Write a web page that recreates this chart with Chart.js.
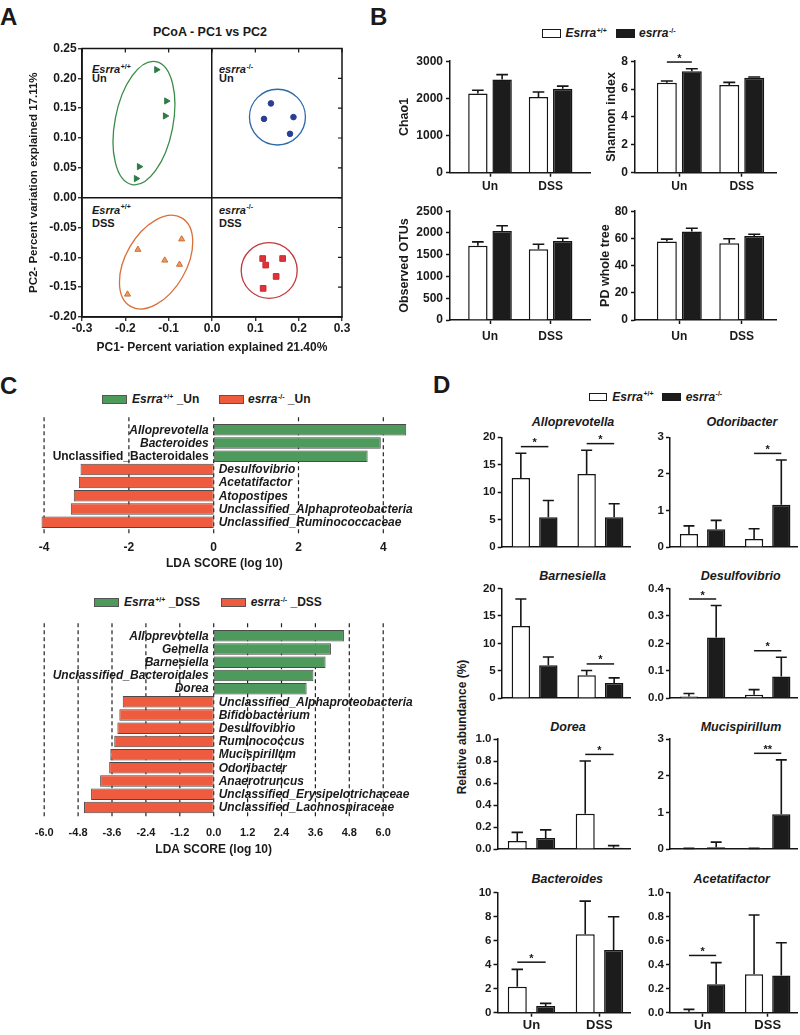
<!DOCTYPE html>
<html>
<head>
<meta charset="utf-8">
<script src="https://cdn.jsdelivr.net/npm/chart.js@4.4.1/dist/chart.umd.min.js"></script>
<style>
  body { margin: 0; background: #fff; }
  #fig { position: relative; width: 800px; height: 1035px; overflow: hidden;
         font-family: 'Liberation Sans', Arial, sans-serif; font-weight: bold; color: #1a1a1a; }
  #fig canvas { position: absolute; }
  .t { position: absolute; white-space: nowrap; line-height: 1; }
  .letter { font-size: 24px; }
  .q { font-size: 11px; }
  .lg { font-size: 12px; }
  .sub { font-size: 12.5px; font-style: italic; width: 160px; text-align: center; }
  .sup { font-size: 7px; position: relative; top: -4.5px; margin-left: 0.5px; font-style: normal; }
  .box { position: absolute; box-sizing: border-box; border: 1.3px solid #1a1a1a; }
</style>
</head>
<body>
<div id="fig">
  <div class="t letter" style="left:0;top:4.5px">A</div>
  <div class="t letter" style="left:370px;top:4.5px">B</div>
  <div class="t letter" style="left:0;top:373.5px">C</div>
  <div class="t letter" style="left:433px;top:373px">D</div>

  <div class="t" style="left:110px;top:25.7px;width:200px;text-align:center;font-size:12.5px">PCoA - PC1 vs PC2</div>
  <div class="t q" style="left:92px;top:64.2px"><i>Esrra</i><span class="sup">+/+</span></div>
  <div class="t q" style="left:92px;top:72.7px">Un</div>
  <div class="t q" style="left:219px;top:64.2px"><i>esrra</i><span class="sup">-/-</span></div>
  <div class="t q" style="left:219px;top:72.7px">Un</div>
  <div class="t q" style="left:92px;top:204.7px"><i>Esrra</i><span class="sup">+/+</span></div>
  <div class="t q" style="left:92px;top:218px">DSS</div>
  <div class="t q" style="left:219px;top:204.7px"><i>esrra</i><span class="sup">-/-</span></div>
  <div class="t q" style="left:219px;top:218px">DSS</div>

  <div class="box" style="left:541.5px;top:28.5px;width:19.5px;height:9px;background:#fff"></div>
  <div class="t lg" style="left:565.5px;top:27.2px"><i>Esrra</i><span class="sup">+/+</span></div>
  <div class="box" style="left:616px;top:28.5px;width:18.5px;height:9px;background:#1c1c1c"></div>
  <div class="t lg" style="left:639px;top:27.2px"><i>esrra</i><span class="sup">-/-</span></div>

  <div class="box" style="left:102px;top:395px;width:25px;height:8.5px;background:#4e9a5c;border-color:#555"></div>
  <div class="t lg" style="left:132px;top:393.4px"><i>Esrra</i><span class="sup">+/+</span> _Un</div>
  <div class="box" style="left:219px;top:395px;width:24.5px;height:8.5px;background:#ef5b3f;border-color:#555"></div>
  <div class="t lg" style="left:248px;top:393.4px"><i>esrra</i><span class="sup">-/-</span> _Un</div>

  <div class="box" style="left:94.3px;top:597.5px;width:24.7px;height:9px;background:#4e9a5c;border-color:#555"></div>
  <div class="t lg" style="left:124px;top:596.1px"><i>Esrra</i><span class="sup">+/+</span> _DSS</div>
  <div class="box" style="left:221px;top:597.5px;width:24.7px;height:9px;background:#ef5b3f;border-color:#555"></div>
  <div class="t lg" style="left:250.7px;top:596.1px"><i>esrra</i><span class="sup">-/-</span> _DSS</div>

  <div class="box" style="left:589px;top:392.5px;width:18px;height:8.5px;background:#fff"></div>
  <div class="t lg" style="left:612.3px;top:390.8px"><i>Esrra</i><span class="sup">+/+</span></div>
  <div class="box" style="left:662.3px;top:392.5px;width:18.5px;height:8.5px;background:#1c1c1c"></div>
  <div class="t lg" style="left:685.7px;top:390.8px"><i>esrra</i><span class="sup">-/-</span></div>

  <div class="t" style="left:461.7px;top:727px;font-size:12px;transform:translate(-50%,-50%) rotate(-90deg)">Relative abundance (%)</div>

  <div class="t sub" style="left:493px;top:415.6px">Alloprevotella</div>
  <div class="t sub" style="left:662px;top:415.6px">Odoribacter</div>
  <div class="t sub" style="left:492.7px;top:569.9px">Barnesiella</div>
  <div class="t sub" style="left:660.7px;top:569.9px">Desulfovibrio</div>
  <div class="t sub" style="left:488px;top:720.9px">Dorea</div>
  <div class="t sub" style="left:661px;top:720.9px">Mucispirillum</div>
  <div class="t sub" style="left:487.3px;top:872.6px">Bacteroides</div>
  <div class="t sub" style="left:651.7px;top:872.6px">Acetatifactor</div>

  <canvas id="pcoa"></canvas>
  <canvas id="chao1"></canvas>
  <canvas id="shannon"></canvas>
  <canvas id="otus"></canvas>
  <canvas id="pd"></canvas>
  <canvas id="ldaUn"></canvas>
  <canvas id="ldaDss"></canvas>
  <canvas id="dAllo"></canvas>
  <canvas id="dOdori"></canvas>
  <canvas id="dBarn"></canvas>
  <canvas id="dDesulfo"></canvas>
  <canvas id="dDorea"></canvas>
  <canvas id="dMucis"></canvas>
  <canvas id="dBact"></canvas>
  <canvas id="dAcet"></canvas>
</div>
<script>
// ---- A: PCoA coordinates (PC1, PC2) ----
const wtUnPC1 = [-0.128, -0.105, -0.108, -0.168, -0.175];
const wtUnPC2 = [0.2145, 0.162, 0.137, 0.052, 0.032];
const koUnPC1 = [0.136, 0.120, 0.188, 0.180];
const koUnPC2 = [0.158, 0.132, 0.135, 0.107];
const wtDssPC1 = [-0.171, -0.070, -0.109, -0.075, -0.195];
const wtDssPC2 = [-0.087, -0.0695, -0.105, -0.112, -0.162];
const koDssPC1 = [0.117, 0.124, 0.163, 0.148, 0.118];
const koDssPC2 = [-0.102, -0.113, -0.102, -0.132, -0.152];
const pcoaXTicks = [-0.3, -0.2, -0.1, 0, 0.1, 0.2, 0.3];
const pcoaYTicks = [-0.2, -0.15, -0.1, -0.05, 0, 0.05, 0.1, 0.15, 0.2, 0.25];
// group envelopes (data units): WT Un, KO Un, WT DSS, KO DSS
const envPC1 = [-0.157, 0.151, -0.129, 0.132];
const envPC2 = [0.125, 0.135, -0.108, -0.122];
const envSpanPC1 = [0.067, 0.0646, 0.070, 0.0646];
const envSpanPC2 = [0.105, 0.0467, 0.0857, 0.0467];
const envTilt = [11, 0, 30, 0];

// ---- B: alpha diversity ----
const groups = ['Un', 'DSS'];
const chao1WT = [2130, 2040], chao1WTsem = [90, 130];
const chao1KO = [2510, 2260], chao1KOsem = [130, 70];
const chao1Ticks = [0, 1000, 2000, 3000];
const shannonWT = [6.45, 6.3], shannonWTsem = [0.13, 0.18];
const shannonKO = [7.28, 6.82], shannonKOsem = [0.18, 0.05];
const shannonTicks = [0, 2, 4, 6, 8];
const shannonSig = ['*', ''];
const otusWT = [1705, 1625], otusWTsem = [90, 115];
const otusKO = [2045, 1818], otusKOsem = [120, 60];
const otusTicks = [0, 500, 1000, 1500, 2000, 2500];
const pdWT = [57.8, 56.4], pdWTsem = [1.7, 3.3];
const pdKO = [65, 61.7], pdKOsem = [2.5, 1.4];
const pdTicks = [0, 20, 40, 60, 80];

// ---- C: LEfSe ----
const ldaUnTaxa = ['Alloprevotella', 'Bacteroides', 'Unclassified_Bacteroidales', 'Desulfovibrio',
  'Acetatifactor', 'Atopostipes', 'Unclassified_Alphaproteobacteria', 'Unclassified_Ruminococcaceae'];
const ldaUnScore = [4.54, 3.94, 3.63, -3.14, -3.18, -3.30, -3.37, -4.06];
const ldaUnTicks = [-4, -2, 0, 2, 4];
const ldaDssTaxa = ['Alloprevotella', 'Gemella', 'Barnesiella', 'Unclassified_Bacteroidales', 'Dorea',
  'Unclassified_Alphaproteobacteria', 'Bifidobacterium', 'Desulfovibrio', 'Ruminococcus', 'Mucispirillum',
  'Odoribacter', 'Anaerotruncus', 'Unclassified_Erysipelotrichaceae', 'Unclassified_Lachnospiraceae'];
const ldaDssScore = [4.61, 4.15, 3.96, 3.53, 3.29, -3.22, -3.34, -3.41, -3.52, -3.66, -3.70, -4.02, -4.34, -4.59];
const ldaDssTicks = [-6, -4.8, -3.6, -2.4, -1.2, 0, 1.2, 2.4, 3.6, 4.8, 6];

// ---- D: relative abundance (%) ----
const alloWT = [12.6, 13.3], alloWTsem = [4.5, 4.35], alloKO = [5.45, 5.45], alloKOsem = [3.05, 2.45];
const alloTicks = [0, 5, 10, 15, 20], alloSig = ['*', '*'];
const odoriWT = [0.36, 0.22], odoriWTsem = [0.22, 0.28], odoriKO = [0.49, 1.16], odoriKOsem = [0.24, 1.22];
const odoriTicks = [0, 1, 2, 3], odoriSig = ['', '*'];
const barnWT = [13.15, 4.17], barnWTsem = [4.95, 0.87], barnKO = [6.0, 2.78], barnKOsem = [1.5, 0.92];
const barnTicks = [0, 5, 10, 15, 20], barnSig = ['', '*'];
const desulfoWT = [0.006, 0.012], desulfoWTsem = [0.011, 0.019], desulfoKO = [0.221, 0.079], desulfoKOsem = [0.117, 0.07];
const desulfoTicks = [0, 0.1, 0.2, 0.3, 0.4], desulfoSig = ['*', '*'];
const doreaWT = [0.073, 0.32], doreaWTsem = [0.079, 0.48], doreaKO = [0.10, 0.012], doreaKOsem = [0.075, 0.02];
const doreaTicks = [0, 0.2, 0.4, 0.6, 0.8, 1.0], doreaSig = ['', '*'];
const mucisWT = [0.01, 0.01], mucisWTsem = [0.01, 0.01], mucisKO = [0.05, 0.95], mucisKOsem = [0.14, 1.48];
const mucisTicks = [0, 1, 2, 3], mucisSig = ['', '**'];
const bactWT = [2.17, 6.53], bactWTsem = [1.44, 2.77], bactKO = [0.56, 5.22], bactKOsem = [0.22, 2.78];
const bactTicks = [0, 2, 4, 6, 8, 10], bactSig = ['*', ''];
const acetWT = [0.008, 0.32], acetWTsem = [0.02, 0.494], acetKO = [0.237, 0.31], acetKOsem = [0.18, 0.273];
const acetTicks = [0, 0.2, 0.4, 0.6, 0.8, 1.0], acetSig = ['*', ''];

const FONT = "'Liberation Sans', Arial, sans-serif";
const INK = '#151515';
const GREEN = '#4e9a5c', RED = '#ef5b3f';

Chart.defaults.font.family = FONT;
Chart.defaults.font.weight = 'bold';
Chart.defaults.font.size = 12;
Chart.defaults.color = '#1a1a1a';
Chart.defaults.animation = false;
Chart.defaults.plugins.legend.display = false;
Chart.defaults.plugins.tooltip.enabled = false;

function place(id, left, top, w, h) {
  const c = document.getElementById(id);
  c.width = w; c.height = h;
  c.style.left = left + 'px'; c.style.top = top + 'px';
  return c;
}
const fixTicks = arr => s => { s.ticks = arr.map(v => ({ value: v })); };

// ---------- A ----------
const ellipsePlugin = {
  id: 'ellipses',
  beforeDatasetsDraw(chart, args, opts) {
    const { ctx, scales: { x, y } } = chart;
    ctx.save();
    ctx.lineWidth = 1.3;
    envPC1.forEach((c, i) => {
      const cx = x.getPixelForValue(c), cy = y.getPixelForValue(envPC2[i]);
      const rx = Math.abs(x.getPixelForValue(c + envSpanPC1[i]) - cx);
      const ry = Math.abs(y.getPixelForValue(envPC2[i] + envSpanPC2[i]) - cy);
      ctx.strokeStyle = opts.colors[i];
      ctx.beginPath();
      ctx.ellipse(cx, cy, rx, ry, envTilt[i] * Math.PI / 180, 0, 2 * Math.PI);
      ctx.stroke();
    });
    ctx.restore();
  }
};
const framePlugin = {
  id: 'frame',
  afterDraw(chart) {
    const { ctx, chartArea: a, scales: { x, y } } = chart;
    ctx.save();
    ctx.strokeStyle = INK; ctx.lineWidth = 1.5;
    ctx.strokeRect(a.left, a.top, a.right - a.left, a.bottom - a.top);
    ctx.lineWidth = 1.2;
    ctx.beginPath();
    y.ticks.forEach(t => { const p = y.getPixelForValue(t.value); ctx.moveTo(a.right, p); ctx.lineTo(a.right - 4, p); });
    x.ticks.forEach(t => { const p = x.getPixelForValue(t.value); ctx.moveTo(p, a.top); ctx.lineTo(p, a.top + 4); });
    ctx.stroke();
    ctx.restore();
  }
};
const zeroLine = c => (c.tick && Math.abs(c.tick.value) < 1e-9) ? INK : 'rgba(0,0,0,0)';
const pts = (xs, ys) => xs.map((v, i) => ({ x: v, y: ys[i] }));

new Chart(place('pcoa', 0, 40, 355, 320), {
  type: 'scatter',
  data: {
    datasets: [
      { data: pts(wtUnPC1, wtUnPC2), pointStyle: 'triangle', pointRotation: 90, pointRadius: 3.6,
        pointBackgroundColor: '#2f7b48', pointBorderColor: '#2f7b48' },
      { data: pts(koUnPC1, koUnPC2), pointStyle: 'circle', pointRadius: 2.8,
        pointBackgroundColor: '#2a3f94', pointBorderColor: '#2a3f94' },
      { data: pts(wtDssPC1, wtDssPC2), pointStyle: 'triangle', pointRadius: 3.5,
        pointBackgroundColor: '#ec9a5e', pointBorderColor: '#cf6f37' },
      { data: pts(koDssPC1, koDssPC2), pointStyle: 'rect', pointRadius: 4,
        pointBackgroundColor: '#e03339', pointBorderColor: '#c92a30' }
    ]
  },
  options: {
    responsive: false, devicePixelRatio: 1,
    layout: { padding: { top: 7, right: 13, left: 0, bottom: 0 } },
    scales: {
      x: {
        type: 'linear', min: -0.3, max: 0.3, afterBuildTicks: fixTicks(pcoaXTicks),
        afterFit: s => { s.height = 43; },
        ticks: { callback: v => v.toFixed(1), font: { size: 12 }, padding: 0, maxRotation: 0 },
        grid: { color: zeroLine, lineWidth: 1.5, tickColor: INK, tickWidth: 1.2, tickLength: 4 },
        border: { color: INK, width: 1.5 },
        title: { display: true, text: 'PC1- Percent variation explained 21.40%', font: { size: 12 },
                 padding: { top: 0, bottom: 4.8 } }
      },
      y: {
        type: 'linear', min: -0.2, max: 0.25, afterBuildTicks: fixTicks(pcoaYTicks),
        afterFit: s => { s.width = 82; },
        ticks: { callback: v => v.toFixed(2), font: { size: 12 }, padding: 1.3 },
        grid: { color: zeroLine, lineWidth: 1.5, tickColor: INK, tickWidth: 1.2, tickLength: 4 },
        border: { color: INK, width: 1.5 },
        title: { display: true, text: 'PC2- Percent variation explained 17.11%', font: { size: 11.5 },
                 padding: { top: 26.6, bottom: 0 } }
      }
    },
    plugins: { ellipses: { colors: ['#3a8c48', '#2d6aa6', '#d9703a', '#c0393b'] } }
  },
  plugins: [ellipsePlugin, framePlugin]
});

// ---------- B & D: bars with SEM and significance ----------
const errorBarsPlugin = {
  id: 'errorBars',
  afterDatasetsDraw(chart, args, opts) {
    const { ctx } = chart, ys = chart.scales.y;
    ctx.save();
    ctx.strokeStyle = INK; ctx.fillStyle = INK; ctx.lineWidth = 1.6;
    chart.data.datasets.forEach((ds, di) => {
      chart.getDatasetMeta(di).data.forEach((bar, i) => {
        const yTop = ys.getPixelForValue(ds.data[i].y + ds.errors[i]);
        const cap = bar.width * 0.3;
        ctx.beginPath();
        ctx.moveTo(bar.x, bar.y); ctx.lineTo(bar.x, yTop);
        ctx.moveTo(bar.x - cap, yTop); ctx.lineTo(bar.x + cap, yTop);
        ctx.stroke();
      });
    });
    (opts.marks || []).forEach((m, i) => {
      if (!m) return;
      const top = Math.max(...chart.data.datasets.map(ds => ds.data[i].y + ds.errors[i]));
      const py = ys.getPixelForValue(top + ys.max * 0.06);
      const a = chart.getDatasetMeta(0).data[i].x, b = chart.getDatasetMeta(1).data[i].x;
      ctx.lineWidth = 1.5;
      ctx.beginPath(); ctx.moveTo(a, py); ctx.lineTo(b, py); ctx.stroke();
      ctx.font = 'bold 11px ' + FONT;
      ctx.textAlign = 'center'; ctx.textBaseline = 'alphabetic';
      ctx.fillText(m, (a + b) / 2, py - 0.5);
    });
    ctx.restore();
  }
};

function bars(o) {
  const L = Math.floor(o.titleX ? o.titleX - 7.5 : o.axisX - 36);
  const T = Math.floor(o.areaTop - 9);
  const w = Math.ceil(o.xEnd + 4 - L);
  const h = Math.ceil(o.areaBottom + o.xH - T);
  const mk = (vals, errs, fill) => ({
    data: vals.map((v, i) => ({ x: i, y: v })), errors: errs,
    backgroundColor: fill, borderColor: INK, borderWidth: 1.5,
    categoryPercentage: o.catPct, barPercentage: o.barPct
  });
  new Chart(place(o.id, L, T, w, h), {
    type: 'bar',
    data: { datasets: [mk(o.wt, o.wtErr, '#fff'), mk(o.ko, o.koErr, '#1c1c1c')] },
    options: {
      responsive: false, devicePixelRatio: 1,
      layout: { padding: { left: 0, top: o.areaTop - T, right: L + w - o.xEnd, bottom: T + h - o.areaBottom - o.xH } },
      scales: {
        x: {
          type: 'linear', min: o.xMin, max: o.xMax, offset: false,
          afterBuildTicks: fixTicks(groups.map((g, i) => i)),
          afterFit: s => { s.height = o.xH; },
          ticks: { display: o.showX, callback: (v, i) => groups[i], font: { size: o.xFont },
                   padding: o.xPad, maxRotation: 0, autoSkip: false },
          grid: { display: o.showX, offset: false, drawOnChartArea: false, tickLength: 4, tickColor: INK, tickWidth: 1.5 },
          border: { color: INK, width: 1.5 }
        },
        y: {
          min: 0, max: o.ticks[o.ticks.length - 1], afterBuildTicks: fixTicks(o.ticks),
          afterFit: s => { s.width = o.axisX - L; },
          ticks: { callback: v => v.toFixed(o.dec || 0), font: { size: o.yFont }, padding: o.yPad },
          grid: { drawOnChartArea: false, tickLength: 4, tickColor: INK, tickWidth: 1.5 },
          border: { color: INK, width: 1.5 },
          title: { display: !!o.title, text: o.title || '', font: { size: 12.5 },
                   padding: { top: o.titleX ? o.titleX - L - 7.5 : 0, bottom: 0 } }
        }
      },
      plugins: { errorBars: { marks: o.marks || [] } }
    },
    plugins: [errorBarsPlugin]
  });
}

const bLeft = { axisX: 450, xEnd: 590, xMin: -0.66, xMax: 1.65, titleX: 405 };
const bRight = { axisX: 635, xEnd: 776.7, xMin: -0.71, xMax: 1.56 };
const bStyle = { catPct: 0.8, barPct: 0.8, showX: true, xH: 24, xFont: 12, yFont: 12, yPad: 3 };
bars({ id: 'chao1', ...bLeft, ...bStyle, areaTop: 60, areaBottom: 172.7, xPad: 2.8, title: 'Chao1',
  wt: chao1WT, wtErr: chao1WTsem, ko: chao1KO, koErr: chao1KOsem, ticks: chao1Ticks });
bars({ id: 'shannon', ...bRight, ...bStyle, titleX: 611.7, areaTop: 60, areaBottom: 172.7, xPad: 2.8, title: 'Shannon index',
  wt: shannonWT, wtErr: shannonWTsem, ko: shannonKO, koErr: shannonKOsem, ticks: shannonTicks, marks: shannonSig });
bars({ id: 'otus', ...bLeft, ...bStyle, areaTop: 210, areaBottom: 320, xPad: 5.5, title: 'Observed OTUs',
  wt: otusWT, wtErr: otusWTsem, ko: otusKO, koErr: otusKOsem, ticks: otusTicks });
bars({ id: 'pd', ...bRight, ...bStyle, titleX: 606, areaTop: 210, areaBottom: 320, xPad: 5.5, title: 'PD whole tree',
  wt: pdWT, wtErr: pdWTsem, ko: pdKO, koErr: pdKOsem, ticks: pdTicks });

const dStyle = { catPct: 0.836, barPct: 0.67, xMin: -0.5, xMax: 1.45, xFont: 13, xPad: 1.2, yFont: 11.5, yPad: 2 };
const dL = { xEnd: 630 }, dR = { axisX: 670, xEnd: 797 };
const r1 = { areaTop: 437.3, areaBottom: 552.6, showX: false, xH: 3 };
const r2 = { areaTop: 588.6, areaBottom: 703.3, showX: false, xH: 3 };
const r3 = { areaTop: 739, areaBottom: 854.3, showX: false, xH: 3 };
const r4 = { areaTop: 892.7, areaBottom: 1012.7, showX: true, xH: 22 };
bars({ id: 'dAllo', ...dStyle, ...dL, axisX: 501.7, ...r1, wt: alloWT, wtErr: alloWTsem, ko: alloKO, koErr: alloKOsem, ticks: alloTicks, marks: alloSig });
bars({ id: 'dOdori', ...dStyle, ...dR, ...r1, wt: odoriWT, wtErr: odoriWTsem, ko: odoriKO, koErr: odoriKOsem, ticks: odoriTicks, marks: odoriSig });
bars({ id: 'dBarn', ...dStyle, ...dL, axisX: 501.7, ...r2, wt: barnWT, wtErr: barnWTsem, ko: barnKO, koErr: barnKOsem, ticks: barnTicks, marks: barnSig });
bars({ id: 'dDesulfo', ...dStyle, ...dR, ...r2, dec: 1, wt: desulfoWT, wtErr: desulfoWTsem, ko: desulfoKO, koErr: desulfoKOsem, ticks: desulfoTicks, marks: desulfoSig });
bars({ id: 'dDorea', ...dStyle, ...dL, axisX: 497.5, ...r3, dec: 1, wt: doreaWT, wtErr: doreaWTsem, ko: doreaKO, koErr: doreaKOsem, ticks: doreaTicks, marks: doreaSig });
bars({ id: 'dMucis', ...dStyle, ...dR, ...r3, wt: mucisWT, wtErr: mucisWTsem, ko: mucisKO, koErr: mucisKOsem, ticks: mucisTicks, marks: mucisSig });
bars({ id: 'dBact', ...dStyle, ...dL, axisX: 497.5, ...r4, wt: bactWT, wtErr: bactWTsem, ko: bactKO, koErr: bactKOsem, ticks: bactTicks, marks: bactSig });
bars({ id: 'dAcet', ...dStyle, ...dR, ...r4, dec: 1, wt: acetWT, wtErr: acetWTsem, ko: acetKO, koErr: acetKOsem, ticks: acetTicks, marks: acetSig });

// ---------- C: LDA bars ----------
const ldaPlugin = {
  id: 'lda',
  beforeDatasetsDraw(chart) {
    const { ctx, chartArea: a, scales: { x } } = chart;
    ctx.save();
    ctx.setLineDash([4, 3]); ctx.lineWidth = 1.2; ctx.strokeStyle = '#222';
    x.ticks.forEach(t => {
      const p = x.getPixelForValue(t.value);
      ctx.beginPath(); ctx.moveTo(p, a.top - 6); ctx.lineTo(p, a.bottom + 5); ctx.stroke();
    });
    ctx.restore();
  },
  afterDatasetsDraw(chart, args, opts) {
    const { ctx, scales: { x } } = chart;
    const x0 = x.getPixelForValue(0);
    const meta = chart.getDatasetMeta(0);
    const vals = chart.data.datasets[0].data;
    ctx.save();
    ctx.fillStyle = '#1a1a1a'; ctx.textBaseline = 'middle';
    chart.data.labels.forEach((lab, i) => {
      ctx.font = ((opts.upright || []).includes(lab) ? '' : 'italic ') + 'bold 12px ' + FONT;
      const pos = vals[i] >= 0;
      ctx.textAlign = pos ? 'right' : 'left';
      ctx.fillText(lab, pos ? x0 - 5 : x0 + 5, meta.data[i].y + 0.5);
    });
    ctx.restore();
  }
};

function lda(o) {
  const W = 432, xH = 45;
  const areaBottom = o.areaTop + o.taxa.length * 13.2;
  const H = Math.ceil(areaBottom + xH - o.top);
  new Chart(place(o.id, 0, o.top, W, H), {
    type: 'bar',
    data: {
      labels: o.taxa,
      datasets: [{ data: o.scores, backgroundColor: o.scores.map(v => v >= 0 ? GREEN : RED),
        borderColor: '#4a4a4a', borderWidth: 1, borderSkipped: false,
        categoryPercentage: 1, barPercentage: 0.87 }]
    },
    options: {
      indexAxis: 'y', responsive: false, devicePixelRatio: 1,
      layout: { padding: { left: o.areaLeft, right: W - o.areaRight, top: o.areaTop - o.top,
                           bottom: o.top + H - areaBottom - xH } },
      scales: {
        x: {
          type: 'linear', min: o.xMin, max: o.xMax, afterBuildTicks: fixTicks(o.ticks),
          afterFit: s => { s.height = xH; },
          ticks: { callback: v => o.dec ? v.toFixed(o.dec) : String(v), font: { size: o.tickSize },
                   padding: o.tickPad, maxRotation: 0, autoSkip: false },
          grid: { display: false, drawTicks: false },
          border: { display: false },
          title: { display: true, text: 'LDA SCORE (log 10)', font: { size: 12 }, padding: { top: 0, bottom: 2.6 } }
        },
        y: { display: false }
      },
      plugins: { lda: { upright: o.upright } }
    },
    plugins: [ldaPlugin]
  });
}

lda({ id: 'ldaUn', top: 410, areaTop: 423.2, areaLeft: 35.6, areaRight: 413, xMin: -4.2, xMax: 4.7,
  taxa: ldaUnTaxa, scores: ldaUnScore, ticks: ldaUnTicks, tickSize: 12, tickPad: 11.3,
  upright: ['Unclassified_Bacteroidales'] });
lda({ id: 'ldaDss', top: 615, areaTop: 629.25, areaLeft: 38.55, areaRight: 388.85, xMin: -6.2, xMax: 6.2,
  taxa: ldaDssTaxa, scores: ldaDssScore, ticks: ldaDssTicks, tickSize: 11, tickPad: 11.9, dec: 1 });
</script>
</body>
</html>
